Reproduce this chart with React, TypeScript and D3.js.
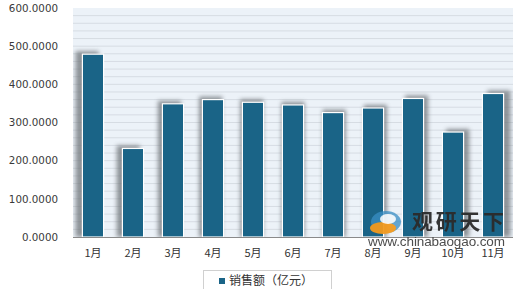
import React from "react";
import * as d3 from "d3";

const categories = ["1月", "2月", "3月", "4月", "5月", "6月", "7月", "8月", "9月", "10月", "11月"];
const salesValues = [479, 232, 349, 360, 353, 346, 326, 338, 363, 275, 376];
const yTicks = [0, 100, 200, 300, 400, 500, 600];
const seriesName = "销售额（亿元）";

const W = 520, H = 289;
const plot = { left: 73, right: 513, top: 8, bottom: 237 };

export default function App() {
  const x = d3.scaleBand<string>().domain(categories).range([plot.left, plot.right]).paddingInner(0.47).paddingOuter(0.235);
  const y = d3.scaleLinear().domain([0, 600]).range([plot.bottom, plot.top]);
  const minor = d3.range(20, 600, 20);
  const mid = (plot.left + plot.right) / 2;
  return (
    <svg width={W} height={H} style={{ position: "absolute", left: 0, top: 0 }}>
      <defs>
        <filter id="blur" x="-50%" y="-50%" width="200%" height="200%">
          <feGaussianBlur stdDeviation="2" />
        </filter>
        <clipPath id="plotclip">
          <rect x={plot.left} y={plot.top} width={plot.right - plot.left} height={plot.bottom - plot.top} />
        </clipPath>
      </defs>
      <rect x={0} y={0} width={W} height={H} fill="#fff" />
      <rect x={plot.left} y={plot.top} width={plot.right - plot.left} height={plot.bottom - plot.top} fill="#ECF2F8" />
      {minor.map((v) => (
        <line key={v} x1={plot.left} x2={plot.right} y1={y(v)} y2={y(v)} stroke="#D6DCE3" strokeWidth={1} />
      ))}
      <g clipPath="url(#plotclip)">
        {salesValues.map((v, i) => {
          const bx = x(categories[i])!;
          const dx = ((bx + x.bandwidth() / 2 - mid) / (plot.right - plot.left)) * 13;
          return (
            <rect key={"s" + i} x={bx + dx - 1} y={y(v) - 3} width={x.bandwidth() + 2} height={plot.bottom - y(v) + 3}
              fill="#6E7378" opacity={0.75} filter="url(#blur)" />
          );
        })}
      </g>
      {salesValues.map((v, i) => (
        <rect key={"b" + i} x={x(categories[i])!} y={y(v)} width={x.bandwidth()} height={plot.bottom - y(v)}
          fill="#1A6487" stroke="#FFFFFF" strokeWidth={1.2} />
      ))}
      <line x1={plot.left} x2={plot.right} y1={plot.bottom + 0.5} y2={plot.bottom + 0.5} stroke="#8A8A8A" strokeWidth={1.2} />
      {yTicks.map((t) => (
        <text key={t} x={58} y={y(t)} dy="0.36em" textAnchor="end" fontFamily="DejaVu Sans" fontSize={10.3} fill="#3A3A3A">
          {t.toFixed(4)}
        </text>
      ))}
      {categories.map((c) => (
        <text key={c} x={x(c)! + x.bandwidth() / 2} y={253} dy="0.35em" textAnchor="middle" fontFamily="Noto Sans CJK SC" fontSize={11} fill="#333">
          {c}
        </text>
      ))}
      {/* watermark */}
      <g opacity={0.95}>
        <ellipse cx={386} cy={222} rx={15} ry={11} fill="#3A8FC4" opacity={0.8} />
        <ellipse cx={383} cy={228} rx={13} ry={6} fill="#F29A1E" />
        <ellipse cx={388} cy={219} rx={8} ry={5} fill="#FFFFFF" opacity={0.9} />
        <text x={412} y={229} fontFamily="Noto Sans CJK SC" fontWeight="bold" fontSize={21} fill="#2B2B2B" textLength={92}>观研天下</text>
        <text x={368} y={246} fontFamily="Liberation Sans" fontSize={13.5} fill="#444" textLength={137}>www.chinabaogao.com</text>
      </g>
      {/* legend */}
      <rect x={203.5} y={270.5} width={128} height={30} fill="#fff" stroke="#D0D0D0" />
      <rect x={219} y={278} width={6} height={6} fill="#1A6487" />
      <text x={229} y={281} dy="0.35em" fontFamily="Noto Sans CJK SC" fontSize={12} fill="#333">{seriesName}</text>
    </svg>
  );
}
